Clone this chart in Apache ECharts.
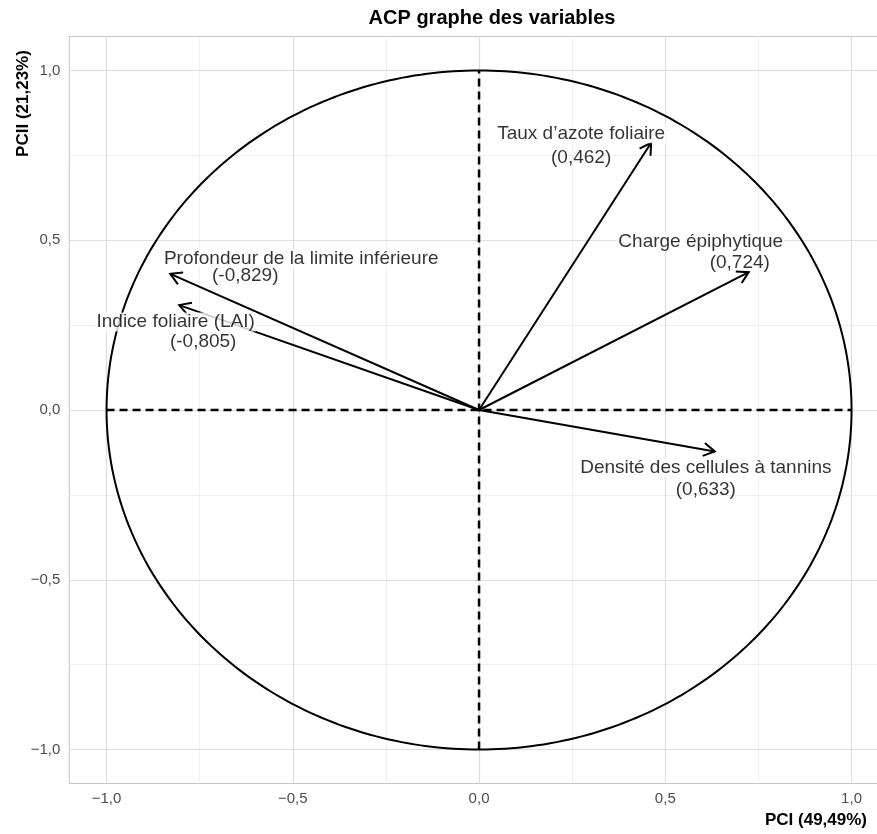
<!DOCTYPE html>
<html>
<head>
<meta charset="utf-8">
<script src="https://cdn.jsdelivr.net/npm/echarts@6/dist/echarts.min.js"></script>
<style>
  html, body { margin: 0; padding: 0; background: #fff; }
  #chart { width: 877px; height: 834px; }
</style>
</head>
<body>
<div id="chart"></div>
<script>
// ---- data ----
const varNames = ['Taux d’azote foliaire', 'Charge épiphytique', 'Densité des cellules à tannins', 'Profondeur de la limite inférieure', 'Indice foliaire (LAI)'];
const valueLabels = ['(0,462)', '(0,724)', '(0,633)', '(-0,829)', '(-0,805)'];
const pc1 = [0.462, 0.724, 0.633, -0.829, -0.805];
const pc2 = [0.787, 0.406, -0.122, 0.401, 0.309];
const tickValues = [-1, -0.5, 0, 0.5, 1];
const minorValues = [-0.75, -0.25, 0.25, 0.75];
const refX = [-1, 1];
const refY = [-1, 1];

// ---- label layout (pixel offsets from arrow tip) ----
const nameOffset = [[-70, -9], [-48, -30], [-9, 16], [131, -15], [-3.5, 17]];
const valueOffset = [[-70, 15], [-9, -9], [-9, 38], [75, 2], [24, 37]];

const FONT = '"Liberation Sans", Arial, Helvetica, sans-serif';
const fmt = v => v.toFixed(1).replace('.', ',').replace('-', '\u2212');

const chart = echarts.init(document.getElementById('chart'), null, { renderer: 'canvas' });

const points = pc1.map((x, i) => [x, pc2[i]]);

const option = {
  animation: false,
  backgroundColor: '#fff',
  grid: {
    left: 69.3, top: 36.5, width: 819.5, height: 747,
    outerBoundsMode: 'none', containLabel: false,
    show: true, borderColor: '#c4c4c4', borderWidth: 1, backgroundColor: 'transparent'
  },
  xAxis: {
    type: 'value', min: -1.1, max: 1.1,
    axisLine: { show: false },
    axisTick: { show: true, customValues: tickValues, length: 4, lineStyle: { color: '#c4c4c4' } },
    axisLabel: { customValues: tickValues, formatter: fmt, fontSize: 15, color: '#4d4d4d', fontFamily: FONT, margin: 8 },
    splitLine: { show: false }
  },
  yAxis: {
    type: 'value', min: -1.1, max: 1.1,
    axisLine: { show: false },
    axisTick: { show: true, customValues: tickValues, length: 4, lineStyle: { color: '#c4c4c4' } },
    axisLabel: { customValues: tickValues, formatter: fmt, fontSize: 15, color: '#4d4d4d', fontFamily: FONT, margin: 9 },
    splitLine: { show: false }
  },
  graphic: [
    { type: 'text', x: 492, y: 18.5, z: 10,
      style: { text: 'ACP graphe des variables', font: 'bold 20px ' + FONT, fill: '#000', textAlign: 'center', textVerticalAlign: 'middle' } },
    { type: 'text', x: 23, y: 103.5, rotation: Math.PI / 2, z: 10,
      style: { text: 'PCII (21,23%)', font: 'bold 17px ' + FONT, fill: '#000', textAlign: 'center', textVerticalAlign: 'middle' } },
    { type: 'text', x: 867, y: 820, z: 10,
      style: { text: 'PCI (49,49%)', font: 'bold 17px ' + FONT, fill: '#000', textAlign: 'right', textVerticalAlign: 'middle' } }
  ],
  series: [
    { // minor grid
      type: 'line', data: [], z: 0, silent: true,
      markLine: {
        z: 0, silent: true, symbol: 'none', label: { show: false }, animation: false,
        lineStyle: { color: '#efefef', width: 1, type: 'solid' },
        data: minorValues.map(v => ({ xAxis: v })).concat(minorValues.map(v => ({ yAxis: v })))
      }
    },
    { // major grid
      type: 'line', data: [], z: 0, silent: true,
      markLine: {
        z: 0, silent: true, symbol: 'none', label: { show: false }, animation: false,
        lineStyle: { color: '#dedede', width: 1.2, type: 'solid' },
        data: tickValues.map(v => ({ xAxis: v })).concat(tickValues.map(v => ({ yAxis: v })))
      }
    },
    { // horizontal dashed reference
      type: 'line', z: 2, silent: true, symbol: 'none',
      data: refX.map(x => [x, 0]),
      lineStyle: { color: '#000', width: 2.5, type: [8, 5] }
    },
    { // vertical dashed reference
      type: 'line', z: 2, silent: true, symbol: 'none',
      data: refY.map(y => [0, y]),
      lineStyle: { color: '#000', width: 2.5, type: [8, 5] }
    },
    { // unit correlation circle
      type: 'custom', z: 3, silent: true,
      data: [[0, 0]],
      renderItem: function (params, api) {
        const pts = [];
        for (let k = 0; k <= 360; k++) {
          const t = k * Math.PI / 180;
          pts.push(api.coord([Math.cos(t), Math.sin(t)]));
        }
        return { type: 'polyline', shape: { points: pts }, style: { stroke: '#000', lineWidth: 2, fill: null } };
      }
    },
    { // arrows
      type: 'custom', z: 4, silent: true,
      data: points,
      renderItem: function (params, api) {
        const o = api.coord([0, 0]);
        const p = api.coord([api.value(0), api.value(1)]);
        const ang = Math.atan2(p[1] - o[1], p[0] - o[0]);
        const L = 13, a = Math.PI / 6;
        const h1 = [p[0] - L * Math.cos(ang - a), p[1] - L * Math.sin(ang - a)];
        const h2 = [p[0] - L * Math.cos(ang + a), p[1] - L * Math.sin(ang + a)];
        return {
          type: 'group', children: [
            { type: 'line', shape: { x1: o[0], y1: o[1], x2: p[0], y2: p[1] }, style: { stroke: '#000', lineWidth: 2 } },
            { type: 'polyline', shape: { points: [h1, p, h2] }, style: { stroke: '#000', lineWidth: 2, fill: null } }
          ]
        };
      }
    },
    { // variable names
      type: 'scatter', z: 6, silent: true, symbolSize: 0,
      data: points.map((p, i) => ({
        value: p,
        label: {
          show: true, position: 'inside', offset: nameOffset[i], formatter: varNames[i],
          fontSize: 19, fontFamily: FONT, color: '#000', backgroundColor: '#fff', padding: [0, 1], lineHeight: 19
        }
      }))
    },
    { // loading values
      type: 'scatter', z: 6, silent: true, symbolSize: 0,
      data: points.map((p, i) => ({
        value: p,
        label: {
          show: true, position: 'inside', offset: valueOffset[i], formatter: valueLabels[i],
          fontSize: 19, fontFamily: FONT, color: '#000', lineHeight: 19
        }
      }))
    }
  ]
};

chart.setOption(option);
</script>
</body>
</html>
